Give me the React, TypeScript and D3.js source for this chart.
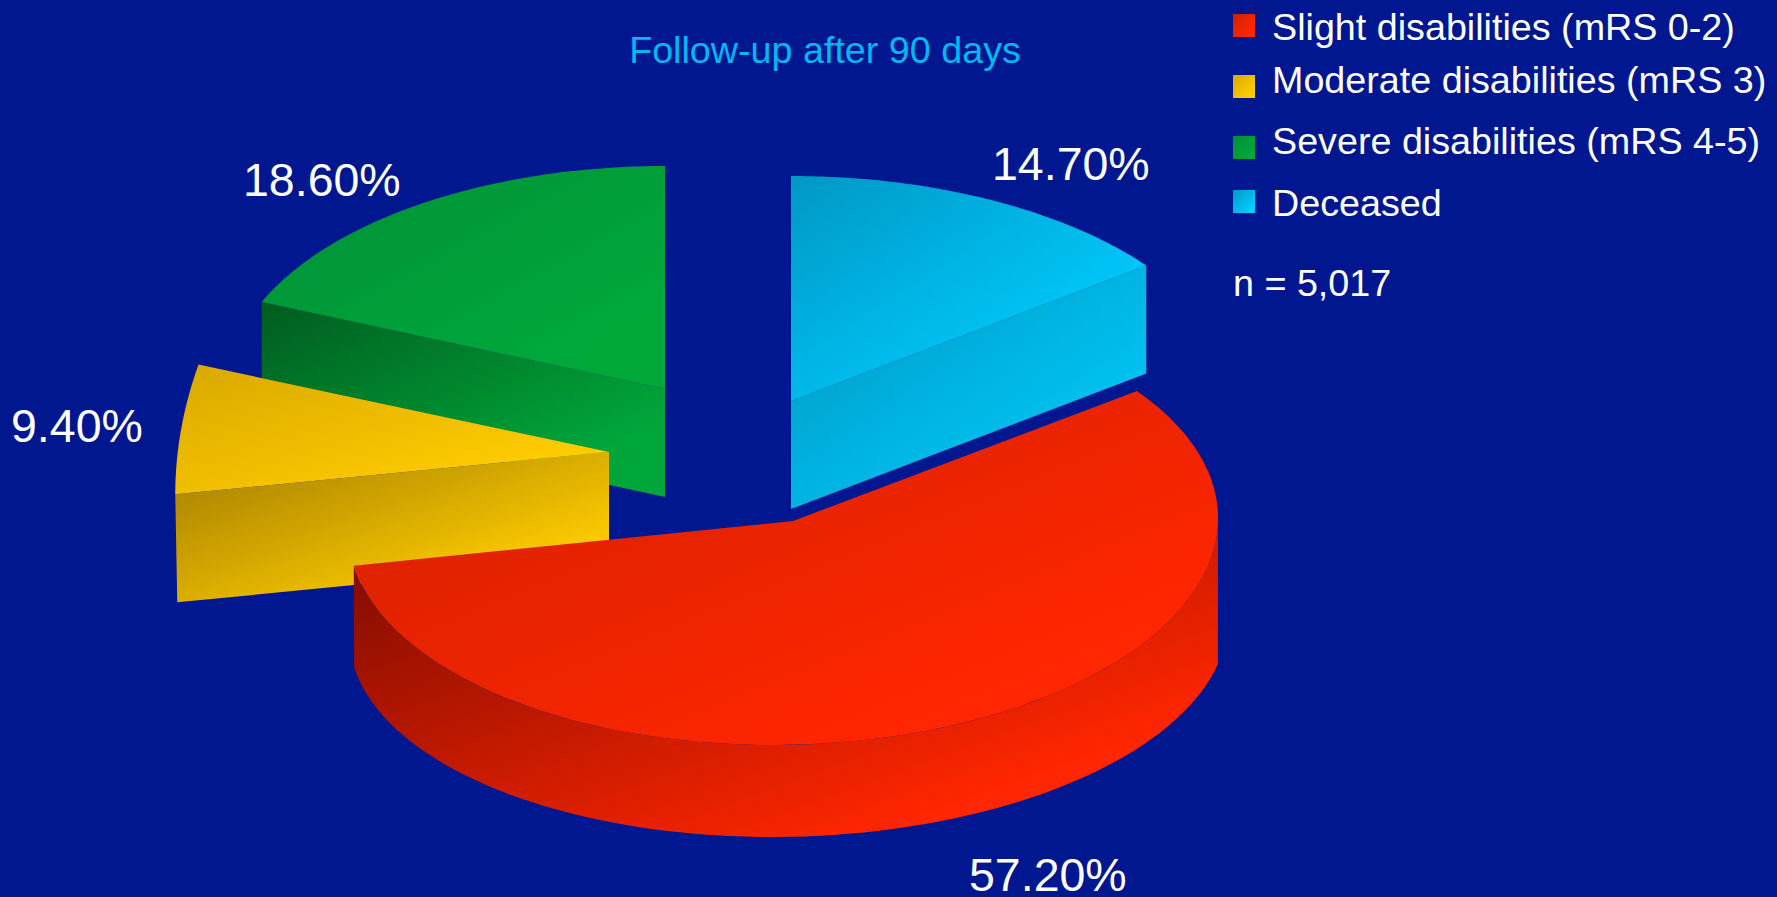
import React from 'react';
import * as d3 from 'd3';

const categories = ['Slight disabilities (mRS 0-2)', 'Moderate disabilities (mRS 3)', 'Severe disabilities (mRS 4-5)', 'Deceased'];
const percentages = [57.2, 9.4, 18.6, 14.7];
const percentLabels = ['57.20%', '9.40%', '18.60%', '14.70%'];
const titleText = 'Follow-up after 90 days';
const sampleText = 'n = 5,017';

const W = 1777, H = 897;
const FONT = '"Liberation Sans", Arial, sans-serif';
const BG = '#00178f';
const DEPTH = 108;

const topStops = [['#d02000', '#ff2600'], ['#d8a800', '#ffcc00'], ['#008f38', '#00a83a'], ['#0098c4', '#00ccff']];
const wallStops = [['#780a00', '#ff2600'], ['#a07c00', '#ffcc00'], ['#005c1e', '#00a63a'], ['#0096c0', '#00c6f6']];

type G = { cx: number; cy: number; rx: number; ry: number; ax: number; ay: number; skew: number };
const geometry: G[] = [
  { cx: 783, cy: 524, rx: 435, ry: 221, ax: 793, ay: 521, skew: -0.05 },
  { cx: 609, cy: 452, rx: 443, ry: 224, ax: 609, ay: 452, skew: 0.03 },
  { cx: 665, cy: 389, rx: 438, ry: 223, ax: 665, ay: 389, skew: 0 },
  { cx: 791, cy: 401, rx: 445, ry: 225, ax: 791, ay: 401, skew: 0 },
];
const redBase = { cx: 788.4, cy: 628, rx: 439, ry: 209, skew: -0.08 };
const labelPos = [[969, 891], [11, 442], [243, 196], [992, 180]];
const legendY = [14, 75, 136, 190];
const legendBase = [40, 93, 154, 216];

const deg = Math.PI / 180;
const total = d3.sum(percentages);
const start = (percentages[3] / total) * 2 * Math.PI;
const arcs = d3.pie<number>().sort(null).startAngle(start).endAngle(start + 2 * Math.PI)(percentages);

const pt = (g: { cx: number; cy: number; rx: number; ry: number; skew: number }, a: number): [number, number] => {
  const dy = -g.ry * Math.cos(a);
  return [g.cx + g.rx * Math.sin(a) + g.skew * dy, g.cy + dy];
};
const line = d3.line();
const samples = (a0: number, a1: number, n = 80) => d3.range(n + 1).map((i) => a0 + ((a1 - a0) * i) / n);

function outerEdge(i: number): [number, number][] {
  const g = geometry[i];
  const a = arcs[i];
  if (i === 1) {
    // the moderate slice's rim is seen almost edge-on: vertical tangent at its lower end
    const p0 = pt(g, a.startAngle);
    const p1 = pt(g, a.endAngle);
    return d3.range(41).map((k) => {
      const u = k / 40;
      return [p0[0] + (p1[0] - p0[0]) * u * u, p0[1] + (p1[1] - p0[1]) * u] as [number, number];
    });
  }
  return samples(a.startAngle, a.endAngle).map((t) => pt(g, t));
}
function topPath(i: number) {
  const g = geometry[i];
  return line([[g.ax, g.ay], ...outerEdge(i)])! + 'Z';
}
function wallPath(i: number) {
  const g = geometry[i];
  if (i === 0) {
    const e = arcs[0].endAngle;
    const up = samples(90 * deg, e).map((t) => pt(g, t));
    const down = samples(e, 100 * deg).map((t) => pt(redBase, t));
    return line([...up, ...down])! + 'Z';
  }
  const wallAngle = i === 3 ? arcs[i].endAngle : arcs[i].startAngle;
  const p = pt(g, wallAngle);
  const lean = i === 1 ? 2 : 0;
  return line([[g.ax, g.ay], p, [p[0] + lean, p[1] + DEPTH], [g.ax, g.ay + DEPTH]])! + 'Z';
}

const Grad = ({ id, c }: { id: string; c: string[] }) => (
  <linearGradient id={id} x1="0" y1="0" x2="1" y2="1">
    <stop offset="0" stopColor={c[0]} />
    <stop offset="0.8" stopColor={c[1]} />
  </linearGradient>
);

export default function App() {
  const drawOrder = [2, 3, 1, 0];
  return (
    <svg width={W} height={H} viewBox={`0 0 ${W} ${H}`} style={{ position: 'fixed', left: 0, top: 0, display: 'block' }} fontFamily={FONT}>
      <defs>
        {categories.map((_, i) => <Grad key={i} id={`top${i}`} c={topStops[i]} />)}
        {categories.map((_, i) => <Grad key={i} id={`wall${i}`} c={wallStops[i]} />)}
      </defs>
      <rect width={W} height={H} fill={BG} />
      {drawOrder.map((i) => (
        <g key={i}>
          <path d={wallPath(i)} fill={`url(#wall${i})`} />
          <path d={topPath(i)} fill={`url(#top${i})`} />
        </g>
      ))}
      <text x={825} y={63} textAnchor="middle" fontSize={37.7} fill="#00b8f2">{titleText}</text>
      {percentLabels.map((t, i) => (
        <text key={t} x={labelPos[i][0]} y={labelPos[i][1]} fontSize={46.5} fill="#fff">{t}</text>
      ))}
      {categories.map((c, i) => (
        <g key={c}>
          <rect x={1233} y={legendY[i]} width={22} height={23} fill={`url(#top${i})`} />
          <text x={1272} y={legendBase[i]} fontSize={37.7} fill="#fff">{c}</text>
        </g>
      ))}
      <text x={1233} y={296} fontSize={37.7} fill="#fff">{sampleText}</text>
    </svg>
  );
}
